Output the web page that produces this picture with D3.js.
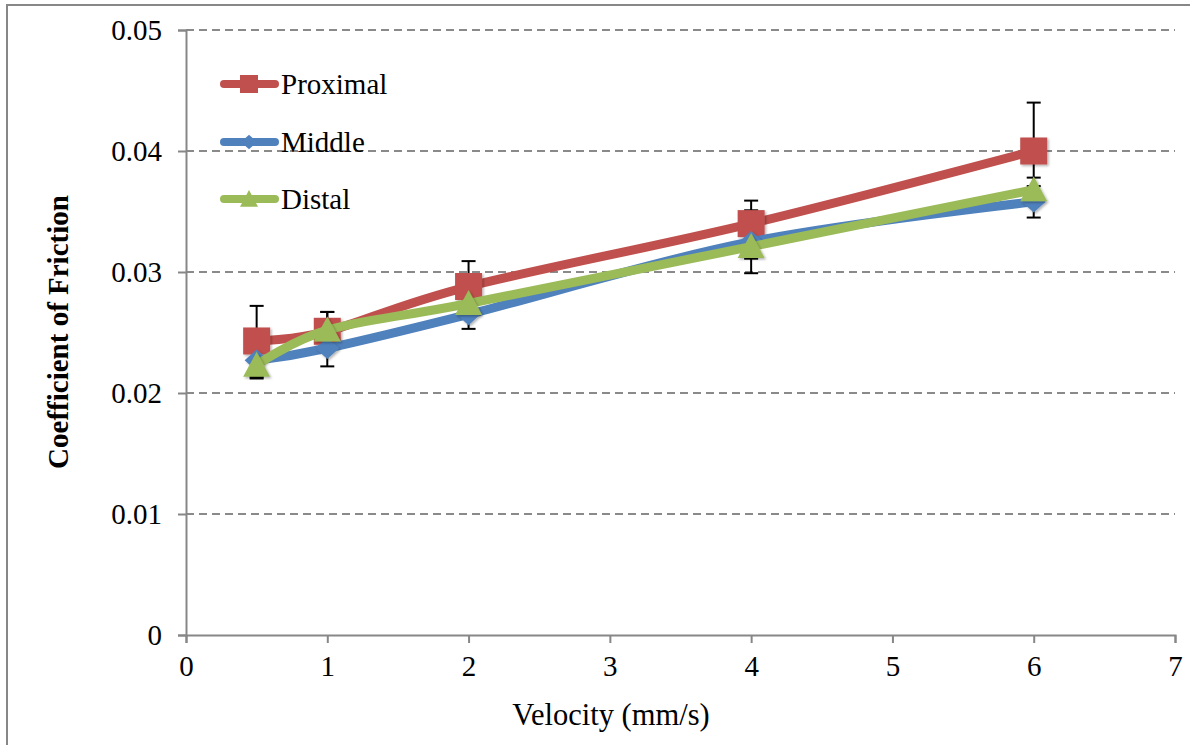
<!DOCTYPE html>
<html>
<head>
<meta charset="utf-8">
<script src="https://cdn.jsdelivr.net/npm/d3@7"></script>
<style>
  body { margin: 0; background: #fff; }
  svg text { font-family: "Liberation Serif", "Times New Roman", serif; }
</style>
</head>
<body>
<div id="chart"></div>
<script>
const width = 1190;
const height = 745;
const serifFont = "'Liberation Serif', 'Times New Roman', serif";

// data
const velocities = [0.5, 1, 2, 4, 6];
const proximal = [0.0243, 0.0251, 0.0288, 0.0340, 0.0400];
const middle = [0.0227, 0.0237, 0.0265, 0.0325, 0.0358];
const distal = [0.0223, 0.0252, 0.0274, 0.0321, 0.0368];
const proximalErr = [0.0029, 0.0016, 0.0021, 0.0019, 0.0040];
const middleErr = [0.0015, 0.0015, 0.0012, 0.0026, 0.0013];
const distalErr = [0.0010, 0.0015, 0.0010, 0.0010, 0.0010];
const xTicks = [0, 1, 2, 3, 4, 5, 6, 7];
const yTicks = [0, 0.01, 0.02, 0.03, 0.04, 0.05];

const series = [
    { name: "Proximal", values: proximal, err: proximalErr, color: "#C0504D", marker: "square" },
    { name: "Middle", values: middle, err: middleErr, color: "#4F81BD", marker: "diamond" },
    { name: "Distal", values: distal, err: distalErr, color: "#9BBB59", marker: "triangle" }
];

const x = d3.scaleLinear().domain([0, 7]).range([186, 1175]);
const y = d3.scaleLinear().domain([0, 0.05]).range([635, 30]);

const svg = d3.select("#chart").append("svg")
    .attr("width", width)
    .attr("height", height)
    .style("display", "block");

const defs = svg.append("defs");
const shadow = defs.append("filter").attr("id", "shade")
    .attr("x", "-30%").attr("y", "-30%").attr("width", "160%").attr("height", "160%");
shadow.append("feDropShadow")
    .attr("dx", 1.5).attr("dy", 1.5).attr("stdDeviation", 1.2)
    .attr("flood-color", "#000").attr("flood-opacity", 0.3);

// outer frame
svg.append("rect")
    .attr("x", 7).attr("y", 5)
    .attr("width", 1300).attr("height", 800)
    .attr("fill", "none")
    .attr("stroke", "#878787")
    .attr("stroke-width", 2);

// gridlines
svg.append("g")
    .selectAll("line")
    .data(yTicks.filter(d => d > 0))
    .join("line")
    .attr("x1", x(0)).attr("x2", x(7))
    .attr("y1", d => y(d)).attr("y2", d => y(d))
    .attr("stroke", "#8a8a8a")
    .attr("stroke-width", 1.8)
    .attr("stroke-dasharray", "8,5");

// axes
const xAxis = svg.append("g")
    .attr("transform", `translate(0,${y(0)})`)
    .call(d3.axisBottom(x).tickValues(xTicks).tickFormat(d3.format("d")).tickSize(8).tickPadding(12));

const yAxis = svg.append("g")
    .attr("transform", `translate(${x(0)},0)`)
    .call(d3.axisLeft(y).tickValues(yTicks).tickFormat(d => d === 0 ? "0" : d3.format(".2f")(d)).tickSize(8).tickPadding(16));

[xAxis, yAxis].forEach(g => {
    g.select(".domain").attr("stroke", "#878787").attr("stroke-width", 2);
    g.selectAll(".tick line").attr("stroke", "#878787").attr("stroke-width", 2);
    g.selectAll(".tick text")
        .attr("fill", "#000")
        .style("font-family", serifFont)
        .style("font-size", "29px");
});
yAxis.selectAll(".tick text").attr("dy", "0.34em");

// axis titles
svg.append("text")
    .attr("x", 611)
    .attr("y", 725)
    .attr("text-anchor", "middle")
    .style("font-family", serifFont)
    .style("font-size", "30.5px")
    .text("Velocity (mm/s)");

svg.append("text")
    .attr("transform", "rotate(-90)")
    .attr("x", -332)
    .attr("y", 68)
    .attr("text-anchor", "middle")
    .style("font-family", serifFont)
    .style("font-size", "29px")
    .style("font-weight", "bold")
    .text("Coefficient of Friction");

// error bars
const capW = 7;
series.forEach(s => {
    const g = svg.append("g");
    velocities.forEach((v, i) => {
        const cx = x(v);
        const top = y(s.values[i] + s.err[i]);
        const bot = y(s.values[i] - s.err[i]);
        g.append("line").attr("x1", cx).attr("x2", cx).attr("y1", top).attr("y2", bot)
            .attr("stroke", "#000").attr("stroke-width", 2);
        [top, bot].forEach(yy => {
            g.append("line").attr("x1", cx - capW).attr("x2", cx + capW).attr("y1", yy).attr("y2", yy)
                .attr("stroke", "#000").attr("stroke-width", 2);
        });
    });
});

function markerPath(type, size) {
    const h = size / 2;
    if (type === "square") return `M${-h},${-h}H${h}V${h}H${-h}Z`;
    if (type === "diamond") return `M0,${-h * 0.9}L${h},0L0,${h * 0.9}L${-h},0Z`;
    return `M0,${-h}L${h},${h * 0.85}L${-h},${h * 0.85}Z`;
}

const line = d3.line()
    .x((d, i) => x(velocities[i]))
    .y(d => y(d))
    .curve(d3.curveCatmullRom.alpha(0));

series.forEach(s => {
    svg.append("path")
        .datum(s.values)
        .attr("d", line)
        .attr("fill", "none")
        .attr("stroke", s.color)
        .attr("stroke-width", 9)
        .attr("stroke-linejoin", "round")
        .attr("stroke-linecap", "round");

    svg.append("g")
        .selectAll("path")
        .data(s.values)
        .join("path")
        .attr("transform", (d, i) => `translate(${x(velocities[i])},${y(d)})`)
        .attr("d", markerPath(s.marker, s.marker === "diamond" ? 24 : 27))
        .attr("fill", s.color)
        .attr("filter", "url(#shade)");
});

// legend
const legendY = [84, 142, 199];
series.forEach((s, i) => {
    const g = svg.append("g").attr("transform", `translate(0,${legendY[i]})`);
    g.append("line")
        .attr("x1", 224).attr("x2", 275)
        .attr("y1", 0).attr("y2", 0)
        .attr("stroke", s.color)
        .attr("stroke-width", 8)
        .attr("stroke-linecap", "round");
    g.append("path")
        .attr("transform", "translate(249,0)")
        .attr("d", markerPath(s.marker, s.marker === "diamond" ? 16 : 18))
        .attr("fill", s.color);
    g.append("text")
        .attr("x", 281)
        .attr("y", 10)
        .style("font-family", serifFont)
        .style("font-size", "29px")
        .text(s.name);
});
</script>
</body>
</html>
